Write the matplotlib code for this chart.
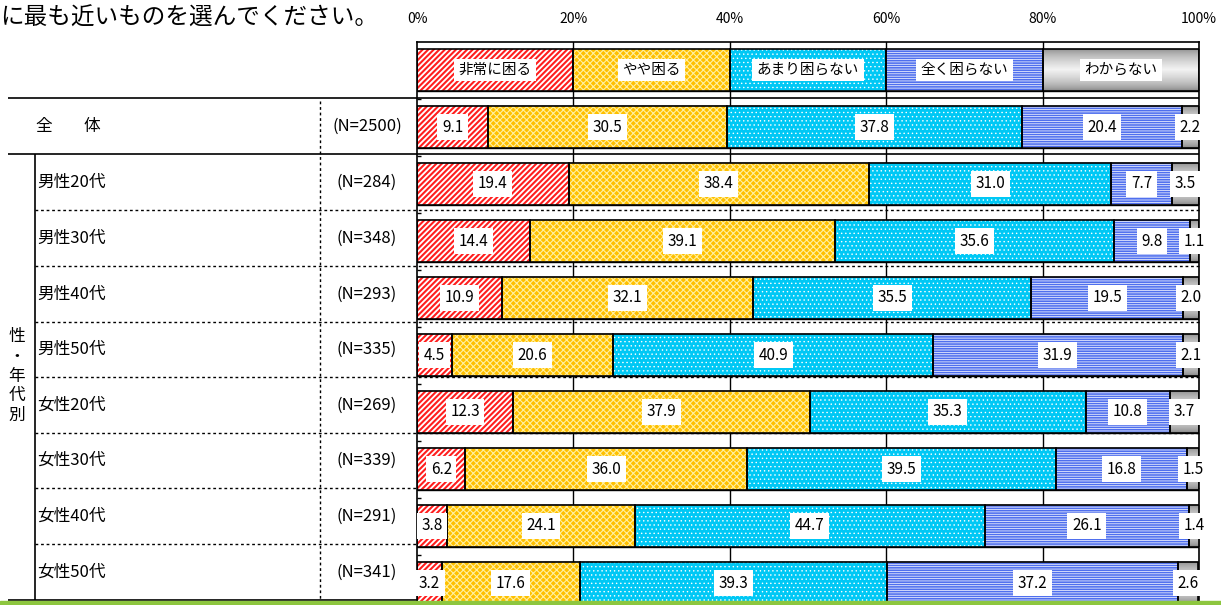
import numpy as np
import matplotlib
matplotlib.use('Agg')
import matplotlib.pyplot as plt
from matplotlib.patches import Rectangle

plt.rcParams['font.family'] = ['Noto Sans CJK JP', 'DejaVu Sans']
plt.rcParams['hatch.linewidth'] = 1.0

title = 'に最も近いものを選んでください。'
answers = ['非常に困る', 'やや困る', 'あまり困らない', '全く困らない', 'わからない']
groups = ['全体', '男性20代', '男性30代', '男性40代', '男性50代',
          '女性20代', '女性30代', '女性40代', '女性50代']
n_sizes = [2500, 284, 348, 293, 335, 269, 339, 291, 341]

very = [9.1, 19.4, 14.4, 10.9, 4.5, 12.3, 6.2, 3.8, 3.2]
somewhat = [30.5, 38.4, 39.1, 32.1, 20.6, 37.9, 36.0, 24.1, 17.6]
not_much = [37.8, 31.0, 35.6, 35.5, 40.9, 35.3, 39.5, 44.7, 39.3]
not_at_all = [20.4, 7.7, 9.8, 19.5, 31.9, 10.8, 16.8, 26.1, 37.2]
dont_know = [2.2, 3.5, 1.1, 2.0, 2.1, 3.7, 1.5, 1.4, 2.6]
ticks = [0, 20, 40, 60, 80, 100]

# face, hatch colour, hatch, hatch width
styles = [('white', '#FF1E1E', '//////', 1.5),
          ('#FFC000', '#FFF0A0', 'xxxxx', 0.8),
          ('#00C8F5', 'white', '....', 0.5),
          ('white', '#4F6FEE', '-------', 1.2),
          (None, None, None, None)]

W, H = 1221, 605
fig = plt.figure(figsize=(W / 100, H / 100), dpi=100)

x0, x1 = 417, 1199      # plot area in pixels
top = 41.5
first = 70.0            # pixel centre of legend row
pitch = 57.0
bar_h = 0.75

bg = fig.add_axes([0, 0, 1, 1], zorder=0)
bg.set_xlim(0, W)
bg.set_ylim(H, 0)
bg.axis('off')

ax = fig.add_axes([x0 / W, 0, (x1 - x0) / W, (H - top) / H], zorder=1)
ax.patch.set_alpha(0)
ylim = ((H - first) / pitch, (top - first) / pitch)

vals = np.array([very, somewhat, not_much, not_at_all, dont_know])
lefts = np.vstack([np.zeros(vals.shape[1]), np.cumsum(vals, axis=0)[:-1]])
ys = np.arange(len(groups) + 1)

# gridlines and strip borders
for t in ticks[1:-1]:
    ax.axvline(t, color='black', lw=1, zorder=0.5)
edges = []
for i in range(len(groups)):
    edges += [i + bar_h / 2, i + 1 - bar_h / 2]
ax.hlines(edges, 0, 100, color='black', lw=1, zorder=0.8)

grad_t = np.linspace(0, 1, 60)
grad = 0.5 + 0.45 * (1 - np.abs(2 * grad_t - 1)) ** 0.6

leg_w = 100 / len(answers)
for k, (face, hc, hatch, hlw) in enumerate(styles):
    widths = np.concatenate([[leg_w], vals[k]])
    lft = np.concatenate([[leg_w * k], lefts[k]])
    if face is not None:
        bars = ax.barh(ys, widths, left=lft, height=bar_h, color=face,
                       edgecolor=hc, hatch=hatch, linewidth=0, zorder=2)
        for p in bars:
            if hasattr(p, 'set_hatch_linewidth'):
                p.set_hatch_linewidth(hlw)
    frame = ax.barh(ys, widths, left=lft, height=bar_h, fill=False,
                    edgecolor='black', linewidth=1.2, zorder=3)
    if face is None:
        for r in frame:
            im = ax.imshow(grad[:, None], cmap='gray', vmin=0, vmax=1,
                           extent=(r.get_x(), r.get_x() + r.get_width(),
                                   r.get_y() + r.get_height(), r.get_y()),
                           aspect='auto', interpolation='bilinear', zorder=2)
            im.set_clip_path(r)
    # labels
    ax.text(lft[0] + widths[0] / 2, 0, answers[k], ha='center', va='center',
            fontsize=10.5, zorder=5,
            bbox=dict(boxstyle='square,pad=0.3', fc='white', ec='none'))
    for y, l, w in zip(ys[1:], lft[1:], widths[1:]):
        ax.text(l + w / 2, y, f'{w:.1f}', ha='center', va='center',
                fontsize=11, zorder=5,
                bbox=dict(boxstyle='square,pad=0.3', fc='white', ec='none'))

ax.set_xlim(0, 100)
ax.set_ylim(*ylim)
ax.set_xticks(ticks)
ax.set_xticklabels([f'{t}%' for t in ticks])
ax.xaxis.tick_top()
ax.tick_params(axis='x', length=0, pad=11, labelsize=10)
ax.set_yticks([])
ax.set_yticks(np.arange(0.5, len(groups)), minor=True)
ax.tick_params(axis='y', which='minor', direction='in', length=3, width=1,
               labelleft=False)
ax.spines['bottom'].set_visible(False)
for s in ['left', 'right', 'top']:
    ax.spines[s].set_linewidth(1.2)

# left table
rows = [98, 154, 210, 266, 322, 377, 433, 488, 544, 600]
bg.hlines(rows[:2], 8, x1, color='black', lw=1.2)
bg.hlines(rows[2:-1], 35, x1, color='black', lw=1, linestyles=(0, (2, 2)))
bg.hlines(rows[-1], 8, x0, color='black', lw=1.2)
bg.vlines(35, rows[1], rows[-1], color='black', lw=1.2)
bg.vlines(320, rows[0] + 3, rows[-1], color='black', lw=1, linestyles=(0, (2, 2)))

for i, (g, n) in enumerate(zip(groups, n_sizes)):
    c = (rows[i] + rows[i + 1]) / 2
    if i == 0:
        bg.text(44, c, g[0], ha='center', va='center', fontsize=12)
        bg.text(92, c, g[1], ha='center', va='center', fontsize=12)
    else:
        bg.text(37, c, g, ha='left', va='center', fontsize=12)
    bg.text(367, c, f'(N={n})', ha='center', va='center', fontsize=12)

bg.text(17, 376, '\n'.join('性・年代別'), ha='center', va='center',
        fontsize=12, linespacing=1.2)

fig.text(0, 1 - 18 / H, title, ha='left', va='center', fontsize=17)
fig.add_artist(Rectangle((0, 0), 1, 4 / H, transform=fig.transFigure,
                         color='#8DC63F', zorder=10))

fig.savefig('out.png', dpi=100)
